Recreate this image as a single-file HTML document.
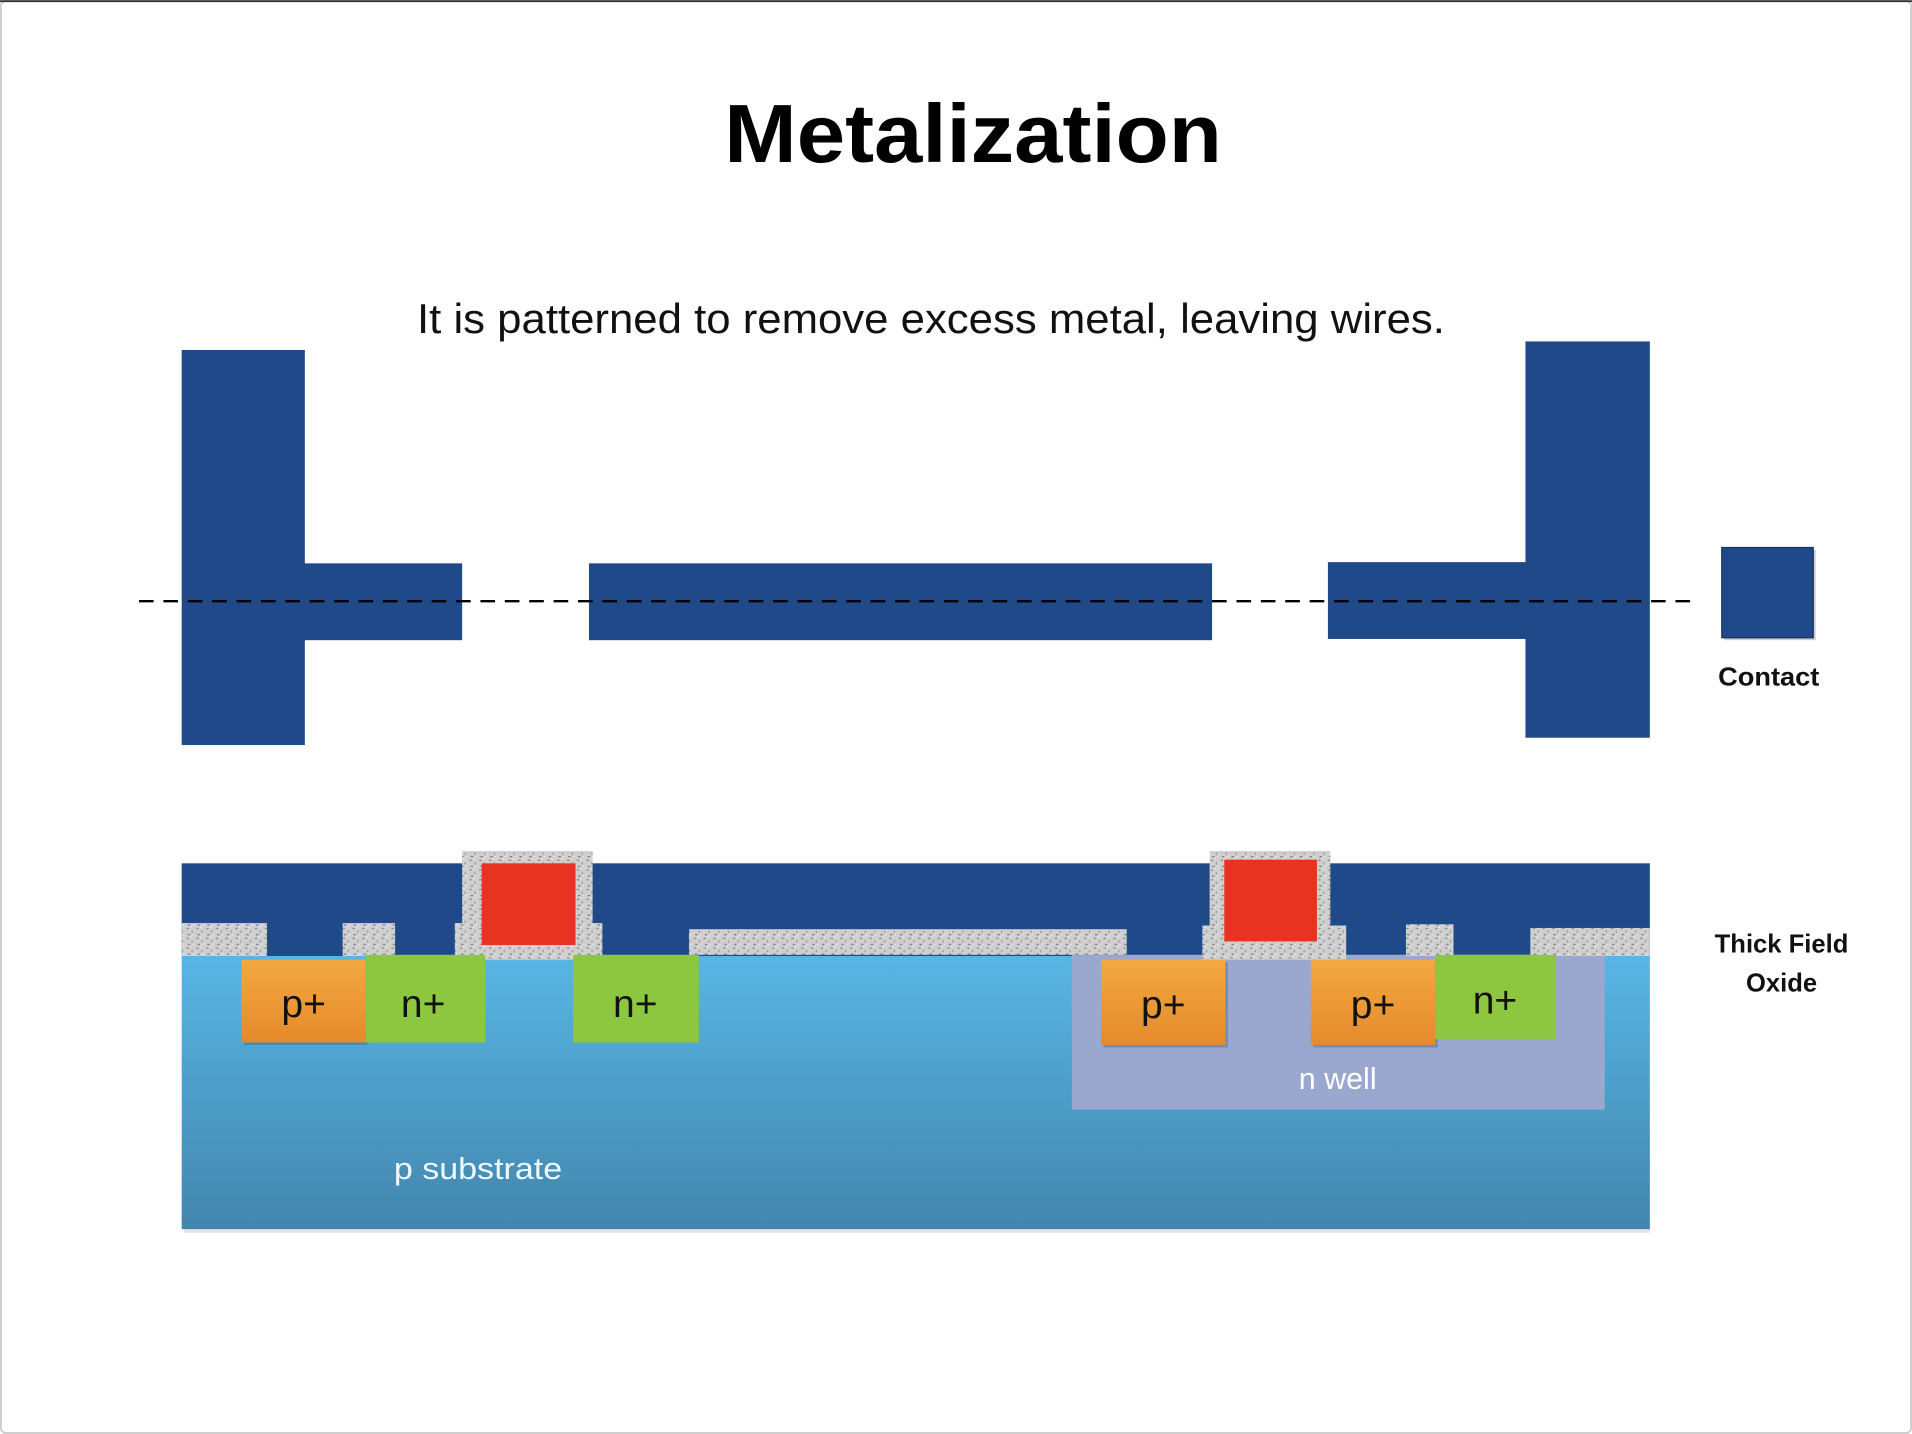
<!DOCTYPE html>
<html><head><meta charset="utf-8"><style>
html,body{margin:0;padding:0;background:#fff;}
svg{display:block;}
</style></head><body>
<svg width="1912" height="1434" viewBox="0 0 1568 1176" xmlns="http://www.w3.org/2000/svg">
<defs>
<pattern id="spk" width="8" height="8" patternUnits="userSpaceOnUse">
<rect width="8" height="8" fill="#cfcfcf"/>
<rect x="1" y="1" width="2" height="1" fill="#8a8a8a"/>
<rect x="5" y="3" width="1" height="2" fill="#999"/>
<rect x="2" y="6" width="2" height="1" fill="#7d7d7d"/>
<rect x="6" y="6" width="1" height="1" fill="#eee"/>
<rect x="4" y="0" width="1" height="1" fill="#f2f2f2"/>
</pattern>
<linearGradient id="sub" x1="0" y1="0" x2="0" y2="1">
<stop offset="0" stop-color="#58b6e4"/><stop offset="1" stop-color="#4286ae"/>
</linearGradient>
<linearGradient id="pp" x1="0" y1="0" x2="0" y2="1">
<stop offset="0" stop-color="#f3a840"/><stop offset="1" stop-color="#e58a2c"/>
</linearGradient>
</defs>
<rect x="0" y="0" width="1568" height="1176" fill="#fff"/>
<rect x="0.8" y="0.8" width="1566.4" height="1174.4" fill="none" stroke="#cfcfcf" stroke-width="1.6" rx="4"/>
<line x1="0" y1="1" x2="1568" y2="1" stroke="#333" stroke-width="1.5"/>

<text x="594" y="133" textLength="408" lengthAdjust="spacingAndGlyphs" font-family="Liberation Sans, sans-serif" font-weight="bold" font-size="68" fill="#000">Metalization</text>
<text x="342" y="273" textLength="843" lengthAdjust="spacingAndGlyphs" font-family="Liberation Sans, sans-serif" font-size="34" fill="#111">It is patterned to remove excess metal, leaving wires.</text>

<g fill="#1f4988">
<rect x="149" y="287" width="101" height="324"/>
<rect x="249" y="462" width="130" height="63"/>
<rect x="483" y="462" width="511" height="63"/>
<rect x="1089" y="461" width="163" height="63"/>
<rect x="1251" y="280" width="102" height="325"/>
<rect x="1414" y="451" width="75" height="74" fill="#999" opacity="0.5"/>
<rect x="1412" y="449" width="75" height="74"/>
</g>
<rect x="1412" y="449" width="75" height="74" fill="none" stroke="#14305c" stroke-width="1"/>
<line x1="114" y1="493" x2="1390" y2="493" stroke="#000" stroke-width="2" stroke-dasharray="12 8"/>
<text x="1409" y="562" textLength="83" lengthAdjust="spacingAndGlyphs" font-family="Liberation Sans, sans-serif" font-weight="bold" font-size="21" fill="#111">Contact</text>

<rect x="151" y="783" width="1202" height="228" fill="#c8c8c8" opacity="0.5"/>
<rect x="149" y="783" width="1204" height="225" fill="url(#sub)"/>
<rect x="149" y="708" width="1204" height="76" fill="#1f4988"/>
<rect x="879" y="783" width="437" height="127" fill="#9aa8d0"/>

<g fill="url(#spk)">
<rect x="149" y="757" width="70" height="27"/>
<rect x="281" y="757" width="43" height="27"/>
<rect x="373" y="757" width="121" height="30"/>
<rect x="379" y="698" width="107" height="89"/>
<rect x="565" y="762" width="359" height="21"/>
<rect x="986" y="759" width="118" height="28"/>
<rect x="992" y="698" width="99" height="89"/>
<rect x="1153" y="758" width="39" height="26"/>
<rect x="1255" y="761" width="98" height="23"/>
</g>
<rect x="395" y="708" width="77" height="67" fill="#e83323"/>
<rect x="1004" y="705" width="76" height="67" fill="#e83323"/>

<g font-family="Liberation Sans, sans-serif" font-size="32" text-anchor="middle" fill="#111">
<rect x="200" y="789" width="102" height="68" fill="#2a5a80" opacity="0.35"/>
<rect x="198" y="787" width="102" height="68" fill="url(#pp)"/>
<rect x="300" y="783" width="98" height="72" fill="#8dc63f"/>
<rect x="470" y="783" width="103" height="72" fill="#8dc63f"/>
<rect x="905" y="789" width="102" height="70" fill="#2a5a80" opacity="0.35"/>
<rect x="903" y="787" width="102" height="70" fill="url(#pp)"/>
<rect x="1077" y="789" width="102" height="70" fill="#2a5a80" opacity="0.35"/>
<rect x="1075" y="787" width="102" height="70" fill="url(#pp)"/>
<rect x="1177" y="783" width="99" height="69" fill="#8dc63f"/>
<text x="249" y="834">p+</text>
<text x="347" y="834">n+</text>
<text x="521" y="834">n+</text>
<text x="954" y="835">p+</text>
<text x="1126" y="835">p+</text>
<text x="1226" y="831">n+</text>
</g>
<text x="1097" y="893" font-family="Liberation Sans, sans-serif" font-size="25" text-anchor="middle" fill="#fff">n well</text>
<text x="323" y="967" textLength="138" lengthAdjust="spacingAndGlyphs" font-family="Liberation Sans, sans-serif" font-size="25" fill="#eef8fc">p substrate</text>
<g font-family="Liberation Sans, sans-serif" font-weight="bold" font-size="21" text-anchor="middle" fill="#111">
<text x="1461" y="781">Thick Field</text>
<text x="1461" y="813">Oxide</text>
</g>
</svg>
</body></html>
